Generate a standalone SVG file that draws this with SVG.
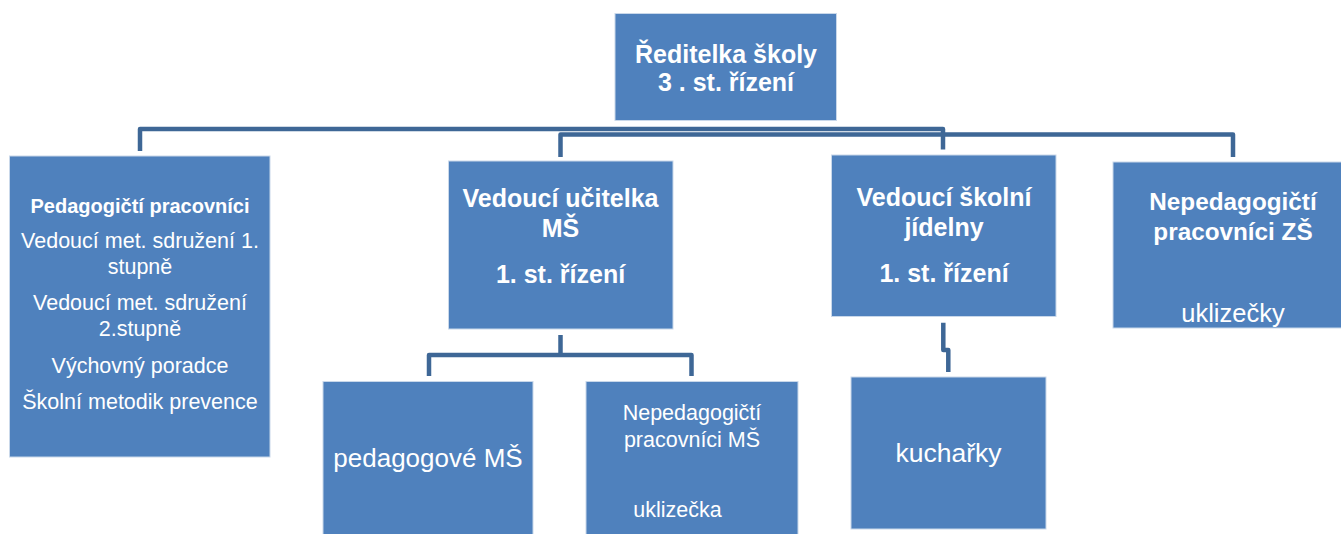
<svg xmlns="http://www.w3.org/2000/svg" width="1341" height="534" viewBox="0 0 1341 534">
  <style>
    .box { fill: #4f81bd; stroke: #c9d8ea; stroke-width: 1; }
    .conn { fill: none; stroke: #3e6796; stroke-width: 4.5; stroke-linejoin: round; }
    text { fill: #ffffff; font-family: "Liberation Sans", Arial, sans-serif; text-anchor: middle; }
    .b { font-weight: bold; font-size: 25px; }
    .bl { font-weight: bold; font-size: 20px; }
    .r { font-size: 21.5px; }
    .rl { font-size: 26px; }
  </style>
  <rect width="1341" height="534" fill="#ffffff"/>

  <g id="connectors">
    <path class="conn" d="M140 151 V129 H725"/>
    <path class="conn" d="M560.5 157 V134.5 H725"/>
    <path class="conn" d="M725 129 H943 V149.5"/>
    <path class="conn" d="M725 134.5 H1233 V157"/>
    <path class="conn" d="M560.5 335 V355"/>
    <path class="conn" d="M429 376 V355 H691.5 V376"/>
    <path class="conn" d="M943.3 322.7 V350 H948.3 V372"/>
  </g>

  <g id="reditelka">
    <rect class="box" x="615" y="13.5" width="221.5" height="107"/>
    <text class="b" x="726" y="63">Ředitelka školy</text>
    <text class="b" x="726" y="91">3 . st. řízení</text>
  </g>

  <g id="pedagogicti">
    <rect class="box" x="9.5" y="156" width="260.5" height="301"/>
    <text class="bl" x="140" y="212.5">Pedagogičtí pracovníci</text>
    <text class="r" x="140" y="248">Vedoucí met. sdružení 1.</text>
    <text class="r" x="140" y="274">stupně</text>
    <text class="r" x="140" y="310">Vedoucí met. sdružení</text>
    <text class="r" x="140" y="336">2.stupně</text>
    <text class="r" x="140" y="373">Výchovný poradce</text>
    <text class="r" x="140" y="409">Školní metodik prevence</text>
  </g>

  <g id="vedouci-ucitelka">
    <rect class="box" x="448.5" y="161" width="224.5" height="168"/>
    <text class="b" x="560.5" y="206.5">Vedoucí učitelka</text>
    <text class="b" x="560.5" y="236.5">MŠ</text>
    <text class="b" x="560.5" y="283">1. st. řízení</text>
  </g>

  <g id="vedouci-jidelny">
    <rect class="box" x="831.5" y="155" width="224.5" height="161.5"/>
    <text class="b" x="944" y="206">Vedoucí školní</text>
    <text class="b" x="944" y="235.5">jídelny</text>
    <text class="b" x="944" y="282">1. st. řízení</text>
  </g>

  <g id="nepedagogicti-zs">
    <rect class="box" x="1113" y="162" width="242" height="166"/>
    <text class="b" x="1233" y="210" style="font-size:24.3px">Nepedagogičtí</text>
    <text class="b" x="1233" y="240" style="font-size:24.3px">pracovníci ZŠ</text>
    <text class="rl" x="1233" y="322" style="font-size:25.5px">uklizečky</text>
  </g>

  <g id="pedagogove-ms">
    <rect class="box" x="323" y="381.5" width="210" height="160"/>
    <text class="rl" x="428" y="466.5">pedagogové MŠ</text>
  </g>

  <g id="nepedagogicti-ms">
    <rect class="box" x="586" y="381.5" width="212" height="160"/>
    <text class="r" x="692" y="420">Nepedagogičtí</text>
    <text class="r" x="692" y="446.5">pracovníci MŠ</text>
    <text class="r" x="677.5" y="516.5">uklizečka</text>
  </g>

  <g id="kucharky">
    <rect class="box" x="851" y="377" width="195" height="152"/>
    <text class="rl" x="948.5" y="461.5" style="font-size:26.5px">kuchařky</text>
  </g>
</svg>
